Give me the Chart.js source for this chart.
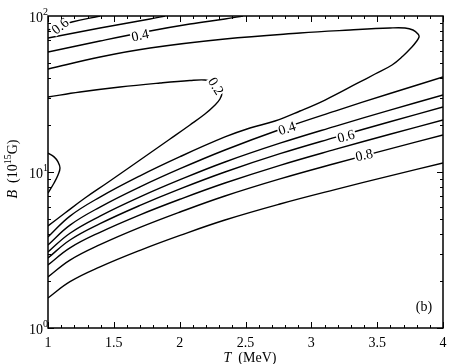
<!DOCTYPE html>
<html><head><meta charset="utf-8">
<script src="https://cdn.jsdelivr.net/npm/chart.js@4.4.0/dist/chart.umd.min.js"></script>
<style>html,body{margin:0;padding:0;background:#fff;}</style>
</head><body>
<canvas id="c" width="450" height="364"></canvas>
<script>
// ---- data ----
const xTickValues = [1, 1.5, 2, 2.5, 3, 3.5, 4];
const xTickLabels = ['1', '1.5', '2', '2.5', '3', '3.5', '4'];
const yTickValues = [1, 10, 100];
const yTickExponents = ['0', '1', '2'];

// level 0.1 (small closed bulge at left edge)
const c01T = [1, 1.046, 1.076, 1.091, 1.076, 1.046, 1];
const c01B = [13.2, 12.5, 11.6, 10.6, 9.57, 8.50, 7.33];
// level 0.2
const c02T = [1, 1.243, 1.547, 1.851, 2.078, 2.192, 2.261, 2.306, 2.322, 2.306, 2.261, 2.192, 2.078, 1.927, 1.775, 1.623, 1.448, 1.281, 1.129, 1];
const c02B = [30.26, 32.57, 35.07, 37.20, 38.59, 38.88, 37.75, 35.59, 32.57, 29.37, 26.49, 23.54, 20.01, 16.27, 13.24, 10.77, 8.50, 6.81, 5.46, 4.51];
// level 0.3 (long loop)
const c03T = [1, 1.395, 1.775, 2.344, 2.914, 3.294, 3.597, 3.711, 3.772, 3.810, 3.818, 3.795, 3.764, 3.696, 3.613, 3.484, 3.354, 3.104, 2.914, 2.724, 2.534, 2.344, 2.003, 1.699, 1.395, 1.167, 1];
const c03B = [45.74, 54.6, 62.35, 71.22, 77.8, 81.34, 83.77, 83.77, 81.34, 76.67, 73.35, 68.13, 63.28, 55.41, 48.52, 42.48, 37.20, 28.94, 24.60, 21.23, 19.15, 16.77, 12.54, 9.454, 6.905, 5.216, 3.831];
// upper branches
const c04uT = [1, 1.395, 1.775, 2.078, 2.344, 2.481];
const c04uB = [58.77, 69.14, 80.14, 88.86, 95.67, 100];
const c05uT = [1, 1.395, 1.775, 1.889];
const c05uB = [72.28, 83.77, 95.67, 100];
const c06uT = [1, 1.182, 1.395];
const c06uB = [81.34, 91.52, 100];
// lower bundle (shared T grid)
const bundleT = [1, 1.167, 1.395, 1.699, 2.003, 2.344, 2.762, 3.180, 3.597, 4];
const c04lB = [3.405, 4.567, 5.957, 8.026, 10.50, 13.84, 18.73, 24.57, 31.86, 40.64];
const c05lB = [3.071, 4.052, 5.216, 6.925, 8.925, 11.59, 15.30, 19.63, 24.94, 31.16];
const c06lB = [2.810, 3.666, 4.663, 6.108, 7.793, 10.00, 13.10, 16.67, 21.01, 26.10];
const c07lB = [2.534, 3.262, 4.107, 5.316, 6.693, 8.501, 11.04, 13.96, 17.47, 21.54];
const c08lB = [2.123, 2.724, 3.420, 4.415, 5.541, 7.018, 9.033, 11.34, 14.08, 17.27];
const c09lB = [1.557, 1.981, 2.464, 3.148, 3.923, 4.924, 6.236, 7.713, 9.441, 11.42];

const labelTexts = ['0.6', '0.4', '0.2', '0.4', '0.6', '0.8'];
const labelT = [1.091, 1.699, 2.276, 2.815, 3.263, 3.40];
const labelB = [86.3, 75.5, 35.6, 19.1, 17.0, 12.9];

const panelLabel = '(b)';

// ---- styles ----
const labelAngles = [-38, -12, 58, -18, -15, -12];
const SERIF = '"Liberation Serif", "Times New Roman", serif';

const curves = [
  [c01T, c01B], [c02T, c02B], [c03T, c03B],
  [c04uT, c04uB], [c05uT, c05uB], [c06uT, c06uB],
  [bundleT, c04lB], [bundleT, c05lB], [bundleT, c06lB],
  [bundleT, c07lB], [bundleT, c08lB], [bundleT, c09lB]
];

const datasets = curves.map(([ts, bs]) => ({
  data: ts.map((t, i) => ({x: t, y: bs[i]})),
  showLine: true,
  borderColor: '#000',
  borderWidth: 1.4,
  pointRadius: 0,
  tension: 0.4,
  fill: false
}));

const decor = {
  id: 'decor',
  afterDatasetsDraw(chart) {
    const ctx = chart.ctx;
    const xs = chart.scales.x, ys = chart.scales.y;
    ctx.save();
    ctx.font = '14px ' + SERIF;
    ctx.textAlign = 'center';
    ctx.textBaseline = 'middle';
    labelTexts.forEach((txt, i) => {
      const px = xs.getPixelForValue(labelT[i]);
      const py = ys.getPixelForValue(labelB[i]);
      ctx.save();
      ctx.translate(px, py);
      ctx.rotate(labelAngles[i] * Math.PI / 180);
      const w = ctx.measureText(txt).width;
      ctx.fillStyle = '#fff';
      ctx.fillRect(-w / 2 - 1, -6, w + 2, 12);
      ctx.fillStyle = '#000';
      ctx.fillText(txt, 0, 1);
      ctx.restore();
    });
    ctx.restore();
  },
  afterDraw(chart) {
    const ctx = chart.ctx;
    const xs = chart.scales.x, ys = chart.scales.y;
    const a = chart.chartArea;
    ctx.save();
    ctx.strokeStyle = '#000';
    ctx.lineWidth = 1.5;
    ctx.strokeRect(a.left, a.top, a.right - a.left, a.bottom - a.top);
    ctx.lineWidth = 1;
    ctx.beginPath();
    for (let k = 0; k <= 30; k++) {
      const v = 1 + k * 0.1;
      const px = Math.round(xs.getPixelForValue(v)) + 0.5;
      const L = (k % 5 === 0) ? 6 : 3;
      ctx.moveTo(px, a.bottom); ctx.lineTo(px, a.bottom - L);
      ctx.moveTo(px, a.top); ctx.lineTo(px, a.top + L);
    }
    for (let d = 0; d < 2; d++) {
      for (let m = 1; m <= 9; m++) {
        const v = m * Math.pow(10, d);
        const py = Math.round(ys.getPixelForValue(v)) + 0.5;
        const L = m === 1 ? 6 : 3;
        ctx.moveTo(a.left, py); ctx.lineTo(a.left + L, py);
        ctx.moveTo(a.right, py); ctx.lineTo(a.right - L, py);
      }
    }
    ctx.stroke();

    ctx.fillStyle = '#000';
    ctx.font = '14px ' + SERIF;
    ctx.textAlign = 'center';
    ctx.textBaseline = 'alphabetic';
    xTickValues.forEach((v, i) => {
      ctx.fillText(xTickLabels[i], xs.getPixelForValue(v), a.bottom + 19);
    });
    yTickValues.forEach((v, i) => {
      const py = ys.getPixelForValue(v);
      ctx.font = '14px ' + SERIF;
      ctx.textAlign = 'right';
      ctx.fillText('10', a.left - 5, py + 6);
      ctx.font = '10px ' + SERIF;
      ctx.textAlign = 'left';
      ctx.fillText(yTickExponents[i], a.left - 5, py - 1);
    });
    // x title
    ctx.font = 'italic 14px ' + SERIF;
    const tW = ctx.measureText('T').width;
    ctx.font = '14px ' + SERIF;
    const rest = '  (MeV)';
    const rW = ctx.measureText(rest).width;
    const sx = 250 - (tW + rW) / 2;
    ctx.textAlign = 'left';
    ctx.font = 'italic 14px ' + SERIF;
    ctx.fillText('T', sx, 362);
    ctx.font = '14px ' + SERIF;
    ctx.fillText(rest, sx + tW, 362);
    // y title
    ctx.save();
    ctx.translate(17, 169);
    ctx.rotate(-Math.PI / 2);
    const parts = [
      ['italic 14px ', 'B', 0],
      ['14px ', '  (10', 0],
      ['10px ', '15', -6],
      ['14px ', 'G)', 0]
    ];
    let total = 0;
    parts.forEach(p => { ctx.font = p[0] + SERIF; total += ctx.measureText(p[1]).width; });
    let cx = -total / 2;
    ctx.textAlign = 'left';
    parts.forEach(p => {
      ctx.font = p[0] + SERIF;
      ctx.fillText(p[1], cx, p[2]);
      cx += ctx.measureText(p[1]).width;
    });
    ctx.restore();
    ctx.font = '14px ' + SERIF;
    ctx.textAlign = 'center';
    ctx.fillText(panelLabel, 424, 311);
    ctx.restore();
  }
};

new Chart(document.getElementById('c'), {
  type: 'scatter',
  data: { datasets },
  options: {
    responsive: false,
    animation: false,
    devicePixelRatio: 1,
    layout: { padding: { left: 48, top: 16, right: 7, bottom: 36 } },
    plugins: { legend: { display: false }, tooltip: { enabled: false } },
    scales: {
      x: { type: 'linear', min: 1, max: 4, display: false },
      y: { type: 'logarithmic', min: 1, max: 100, display: false }
    }
  },
  plugins: [decor]
});
</script>
</body></html>
